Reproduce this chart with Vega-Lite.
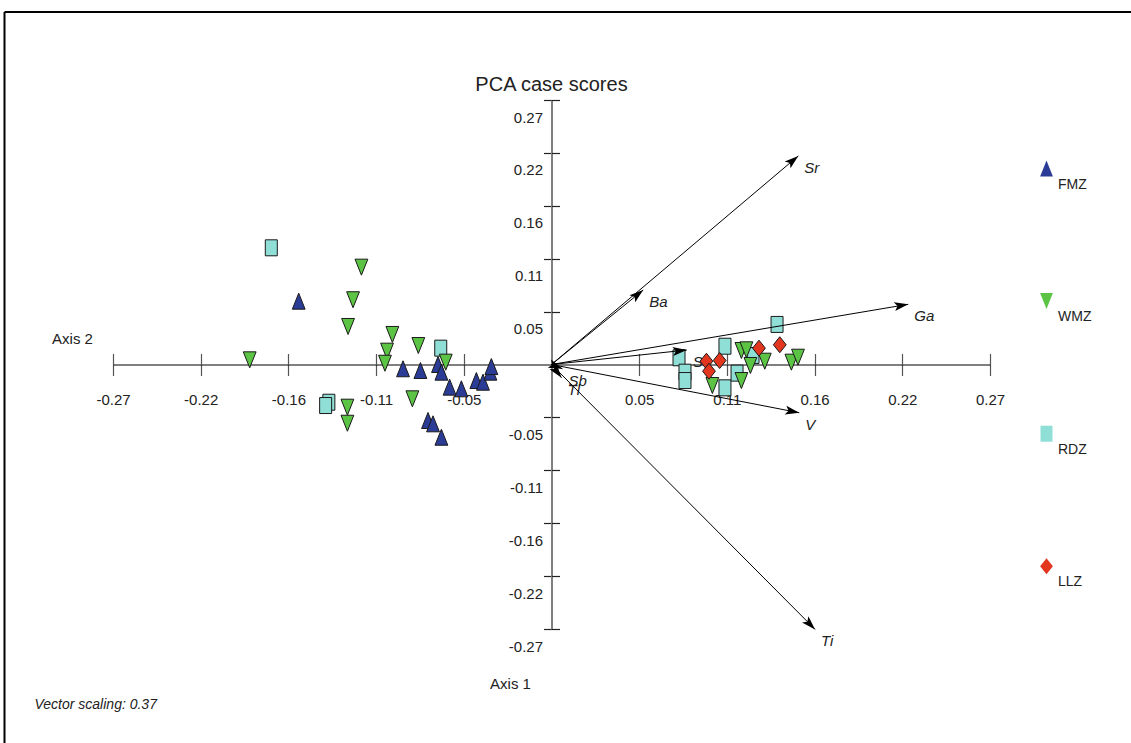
{
  "$schema": "https://vega.github.io/schema/vega-lite/v6.json",
  "width": 877,
  "height": 529,
  "autosize": {"type": "none"},
  "padding": {"left": 113, "top": 100, "right": 141, "bottom": 114},
  "background": "white",
  "config": {
    "view": {"stroke": null},
    "font": "Liberation Sans",
    "axis": {"grid": false, "labelFont": "Liberation Sans", "titleFont": "Liberation Sans", "labelColor": "#222", "titleColor": "#222", "labelFontSize": 15, "titleFontSize": 15, "titleFontWeight": "normal", "labelFlush": false, "labelOverlap": false, "labelBound": false, "zindex": 1},
    "legend": {"labelFont": "Liberation Sans"}
  },
  "title": {"text": "PCA case scores", "frame": "group", "anchor": "middle", "offset": 5, "dy": 89, "fontSize": 20, "fontWeight": "normal", "font": "Liberation Sans", "color": "#222"},
  "datasets": {
    "points": [
      {"zone": "FMZ", "x": -0.1568, "y": 0.0651},
      {"zone": "FMZ", "x": -0.0921, "y": -0.0044},
      {"zone": "FMZ", "x": -0.0813, "y": -0.0062},
      {"zone": "FMZ", "x": -0.0704, "y": 0.0},
      {"zone": "FMZ", "x": -0.0683, "y": -0.0079},
      {"zone": "FMZ", "x": -0.0632, "y": -0.0233},
      {"zone": "FMZ", "x": -0.0559, "y": -0.025},
      {"zone": "FMZ", "x": -0.0466, "y": -0.0165},
      {"zone": "FMZ", "x": -0.0425, "y": -0.0182},
      {"zone": "FMZ", "x": -0.0379, "y": -0.0079},
      {"zone": "FMZ", "x": -0.0373, "y": -0.0021},
      {"zone": "FMZ", "x": -0.0766, "y": -0.0576},
      {"zone": "FMZ", "x": -0.0735, "y": -0.061},
      {"zone": "FMZ", "x": -0.0683, "y": -0.0748},
      {"zone": "RDZ", "x": -0.1738, "y": 0.12},
      {"zone": "RDZ", "x": -0.0687, "y": 0.0168},
      {"zone": "RDZ", "x": -0.1381, "y": -0.0388},
      {"zone": "RDZ", "x": -0.1401, "y": -0.0422},
      {"zone": "RDZ", "x": 0.1399, "y": 0.0412},
      {"zone": "RDZ", "x": 0.1076, "y": 0.0188},
      {"zone": "RDZ", "x": 0.0791, "y": 0.0069},
      {"zone": "RDZ", "x": 0.0828, "y": -0.0079},
      {"zone": "RDZ", "x": 0.0828, "y": -0.0165},
      {"zone": "RDZ", "x": 0.1076, "y": -0.024},
      {"zone": "RDZ", "x": 0.1151, "y": -0.0089},
      {"zone": "RDZ", "x": 0.125, "y": 0.0093},
      {"zone": "WMZ", "x": -0.1179, "y": 0.1001},
      {"zone": "WMZ", "x": -0.1231, "y": 0.0666},
      {"zone": "WMZ", "x": -0.1262, "y": 0.0391},
      {"zone": "WMZ", "x": -0.0987, "y": 0.0309},
      {"zone": "WMZ", "x": -0.102, "y": 0.0137},
      {"zone": "WMZ", "x": -0.1033, "y": 0.0013},
      {"zone": "WMZ", "x": -0.1872, "y": 0.0048},
      {"zone": "WMZ", "x": -0.0826, "y": 0.0195},
      {"zone": "WMZ", "x": -0.0656, "y": 0.0024},
      {"zone": "WMZ", "x": -0.1266, "y": -0.0439},
      {"zone": "WMZ", "x": -0.1266, "y": -0.0604},
      {"zone": "WMZ", "x": -0.0863, "y": -0.0353},
      {"zone": "WMZ", "x": 0.1178, "y": 0.0144},
      {"zone": "WMZ", "x": 0.1209, "y": 0.0151},
      {"zone": "WMZ", "x": 0.1323, "y": 0.0034},
      {"zone": "WMZ", "x": 0.1234, "y": -0.001},
      {"zone": "WMZ", "x": 0.1488, "y": 0.0024},
      {"zone": "WMZ", "x": 0.1529, "y": 0.0075},
      {"zone": "WMZ", "x": 0.0998, "y": -0.0216},
      {"zone": "WMZ", "x": 0.1178, "y": -0.0165},
      {"zone": "LLZ", "x": 0.1287, "y": 0.0168},
      {"zone": "LLZ", "x": 0.1416, "y": 0.0203},
      {"zone": "LLZ", "x": 0.1043, "y": 0.0041},
      {"zone": "LLZ", "x": 0.0961, "y": 0.0034},
      {"zone": "LLZ", "x": 0.0977, "y": -0.0069}
    ],
    "vectors": [
      {"name": "Sr", "x": 0.1531, "y": 0.2145},
      {"name": "Ba", "x": 0.0569, "y": 0.0766},
      {"name": "Ga", "x": 0.2213, "y": 0.0619},
      {"name": "V", "x": 0.1537, "y": -0.0496},
      {"name": "Ti", "x": 0.1635, "y": -0.2724},
      {"name": "Sc", "x": 0.0839, "y": 0.0149},
      {"name": "Sb", "x": 0.0068, "y": -0.0044},
      {"name": "Tl", "x": 0.0062, "y": -0.0136}
    ],
    "frame": [
      {"x": -0.3393, "x2": 0.37, "y": 0.3625, "y2": 0.3625},
      {"x": -0.3393, "x2": -0.3393, "y": 0.3625, "y2": -0.4}
    ]
  },
  "layer": [
    {
      "data": {"name": "frame"},
      "mark": {"type": "rule", "color": "black", "strokeWidth": 2},
      "encoding": {
        "x": {"field": "x", "type": "quantitative", "scale": {"domain": [-0.272, 0.272], "nice": false, "zero": false}, "axis": null},
        "x2": {"field": "x2"},
        "y": {"field": "y", "type": "quantitative", "scale": {"domain": [-0.272, 0.272], "nice": false, "zero": false}, "axis": null},
        "y2": {"field": "y2"}
      }
    },
    {
      "data": {"name": "vectors"},
      "mark": {"type": "text", "align": "left", "baseline": "middle", "dx": 6, "dy": 12, "fontStyle": "italic", "fontSize": 15, "color": "#222", "font": "Liberation Sans"},
      "encoding": {
        "x": {"field": "x", "type": "quantitative", "scale": {"domain": [-0.272, 0.272], "nice": false, "zero": false}, "axis": null},
        "y": {"field": "y", "type": "quantitative", "scale": {"domain": [-0.272, 0.272], "nice": false, "zero": false}, "axis": null},
        "text": {"field": "name"}
      }
    },
    {
      "data": {"name": "points"},
      "mark": {"type": "point", "filled": true, "opacity": 1, "stroke": "#1a1a1a", "strokeWidth": 1, "size": 256},
      "encoding": {
        "x": {"field": "x", "type": "quantitative", "scale": {"domain": [-0.272, 0.272], "nice": false, "zero": false},
          "axis": {"orient": "bottom", "offset": -264.5, "values": [-0.272, -0.2176, -0.1632, -0.1088, -0.0544, 0.0544, 0.1088, 0.1632, 0.2176, 0.272],
            "labelExpr": "replace(format(datum.value, '.2f'), '\u2212', '-')",
            "domainColor": "black", "domainWidth": 1, "tickColor": "#555", "tickSize": 11, "tickWidth": 1.2,
            "labelPadding": 17, "labelBaseline": "top",
            "title": "Axis 1", "titleX": 397, "titleY": 319, "titleAlign": "center", "titleBaseline": "middle"}},
        "y": {"field": "y", "type": "quantitative", "scale": {"domain": [-0.272, 0.272], "nice": false, "zero": false},
          "axis": {"orient": "left", "offset": -438.5, "values": [-0.272, -0.2176, -0.1632, -0.1088, -0.0544, 0.0544, 0.1088, 0.1632, 0.2176, 0.272],
            "labelExpr": "replace(format(datum.value, '.2f'), '\u2212', '-')",
            "domainColor": "#808080", "domainWidth": 2, "tickColor": "#222", "tickSize": 8, "tickWidth": 1.2,
            "labelOffset": 17, "labelPadding": 1,
            "title": "Axis 2", "titleAngle": 0, "titleX": -479.5, "titleY": 238, "titleAlign": "center", "titleBaseline": "middle"}},
        "fill": {"field": "zone", "type": "nominal",
          "scale": {"domain": ["FMZ", "WMZ", "RDZ", "LLZ"], "range": ["#2b3c96", "#5cc445", "#8fdfd7", "#e2361f"]},
          "legend": {"orient": "none", "legendX": 925, "legendY": 60, "title": null, "padding": 0, "rowPadding": 82.6, "labelOffset": 3, "labelFontSize": 14, "labelColor": "#222", "labelExpr": "['', '', datum.label]", "symbolSize": 256, "symbolStrokeColor": "#1a1a1a", "symbolStrokeWidth": 1, "symbolOpacity": 1}},
        "shape": {"field": "zone", "type": "nominal",
          "scale": {"domain": ["FMZ", "WMZ", "RDZ", "LLZ"], "range": ["M0,-1L0.8,1L-0.8,1Z", "M0,1L0.8,-1L-0.8,-1Z", "M-0.75,-1H0.75V1H-0.75Z", "M0,-1L0.8,0L0,1L-0.8,0Z"]},
          "legend": {"orient": "none", "legendX": 925, "legendY": 60, "title": null, "padding": 0, "rowPadding": 82.6, "labelOffset": 3, "labelFontSize": 14, "labelColor": "#222", "labelExpr": "['', '', datum.label]", "symbolSize": 256, "symbolStrokeColor": "#1a1a1a", "symbolStrokeWidth": 1, "symbolOpacity": 1}}
      }
    },
    {
      "data": {"name": "vectors"},
      "mark": {"type": "rule", "color": "black", "strokeWidth": 1},
      "encoding": {
        "x": {"field": "x", "type": "quantitative", "scale": {"domain": [-0.272, 0.272], "nice": false, "zero": false},
          "axis": {"orient": "top", "offset": -264.5, "values": [-0.272, -0.2176, -0.1632, -0.1088, -0.0544, 0.0544, 0.1088, 0.1632, 0.2176, 0.272],
            "domain": false, "labels": false, "tickColor": "#555", "tickSize": 11, "tickWidth": 1.2,
            "title": "Vector scaling: 0.37", "titleX": -79, "titleY": 339.5, "titleAlign": "left", "titleBaseline": "middle", "titleFontStyle": "italic", "titleFontSize": 14}},
        "x2": {"datum": 0},
        "y": {"field": "y", "type": "quantitative", "scale": {"domain": [-0.272, 0.272], "nice": false, "zero": false},
          "axis": {"orient": "right", "offset": -438.5, "values": [-0.272, -0.2176, -0.1632, -0.1088, -0.0544, 0.0544, 0.1088, 0.1632, 0.2176, 0.272],
            "domain": false, "labels": false, "tickColor": "#222", "tickSize": 8, "tickWidth": 1.2, "title": null}},
        "y2": {"datum": 0}
      }
    },
    {
      "data": {"name": "vectors"},
      "transform": [{"calculate": "atan2(datum.x * 1612, datum.y * 972.4) * 180 / PI", "as": "ang"}],
      "mark": {"type": "point", "filled": true, "opacity": 1, "color": "black", "size": 784, "shape": "M0,0L0.32,1L0,0.78L-0.32,1Z"},
      "encoding": {
        "x": {"field": "x", "type": "quantitative", "scale": {"domain": [-0.272, 0.272], "nice": false, "zero": false}, "axis": null},
        "y": {"field": "y", "type": "quantitative", "scale": {"domain": [-0.272, 0.272], "nice": false, "zero": false}, "axis": null},
        "angle": {"field": "ang", "type": "quantitative", "scale": null}
      }
    }
  ],
  "resolve": {"axis": {"x": "independent", "y": "independent"}}
}
